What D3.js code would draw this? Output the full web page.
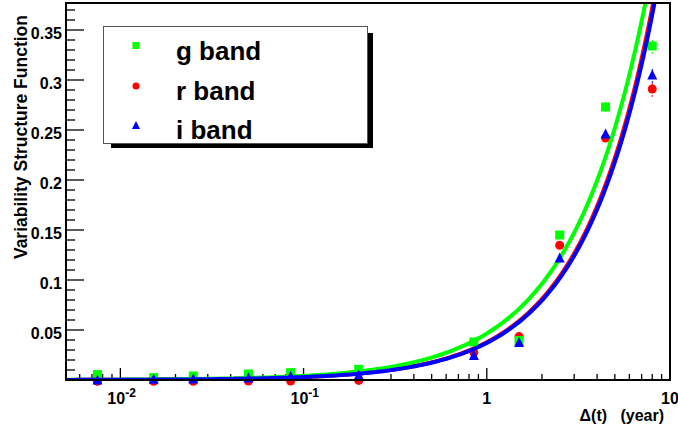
<!DOCTYPE html>
<html>
<head>
<meta charset="utf-8">
<script src="https://cdn.jsdelivr.net/npm/d3@7"></script>
<style>
  html, body { margin: 0; padding: 0; background: #fff; }
  svg { display: block; font-family: "Liberation Sans", Arial, Helvetica, sans-serif; }
</style>
</head>
<body>
<svg id="chart" width="678" height="431"></svg>
<script>
// ---- data ----
const timeLags = [0.0075, 0.0152, 0.025, 0.05, 0.085, 0.2, 0.85, 1.5, 2.5, 4.45, 8.0];
const gBand = [0.0054, 0.0024, 0.0040, 0.0060, 0.0074, 0.0107, 0.038, 0.0395, 0.145, 0.273, 0.334];
const rBand = [-0.0013, -0.0013, -0.0013, -0.0011, -0.0011, -0.0004, 0.0274, 0.0434, 0.1347, 0.242, 0.291];
const iBand = [0.0000, 0.0007, 0.0010, 0.0020, 0.0037, 0.0047, 0.0244, 0.0374, 0.122, 0.246, 0.305];
const gErr = [0, 0, 0, 0, 0, 0, 0, 0, 0, 0.005, 0.008];
const rErr = [0, 0, 0, 0, 0, 0, 0, 0, 0, 0.004, 0.008];
const iErr = [0, 0, 0, 0, 0, 0, 0, 0, 0, 0.004, 0.008];
// power-law fit V = A * dt^gamma, parameters
const bandNames = ["g band", "r band", "i band"];
const fitAmp = [0.0465, 0.0378, 0.0371];
const fitIndex = [1.05, 1.1, 1.1];
const yTickValues = [0.05, 0.1, 0.15, 0.2, 0.25, 0.3, 0.35];
const xTickValues = [0.01, 0.1, 1, 10];

// ---- layout ----
const svg = d3.select("#chart");
const L = 66, R = 670, T = 3, B = 380;
const x = d3.scaleLog().domain([0.00505, 10]).range([L, R]);
const y = d3.scaleLinear().domain([0, 0.377]).range([B, T]);

const colors = {g: "#00ff00", r: "#ff0000", i: "#0000ff"};

svg.append("defs").append("clipPath").attr("id", "plotclip")
  .append("rect").attr("x", L).attr("y", T).attr("width", R - L).attr("height", B - T);

// ---- axes ticks ----
const axisG = svg.append("g");
const yMinor = d3.range(1, 38).map(k => k * 0.01);
yMinor.forEach(v => {
  const isMajor = Math.abs(v / 0.05 - Math.round(v / 0.05)) < 1e-6;
  axisG.append("line")
    .attr("x1", L).attr("x2", L + (isMajor ? 18 : 9))
    .attr("y1", y(v)).attr("y2", y(v))
    .attr("stroke", "#000").attr("stroke-width", 1.3);
});
yTickValues.forEach(v => {
  axisG.append("text")
    .attr("x", 62).attr("y", y(v) + 8.5)
    .attr("text-anchor", "end")
    .attr("font-size", 16).attr("font-weight", "bold")
    .text(d3.format(".2~f")(v));
});
const xMinor = [];
for (let e = -3; e <= 0; e++) {
  for (let m = 1; m <= 9; m++) {
    const v = m * Math.pow(10, e);
    if (v >= 0.00505 && v <= 10) xMinor.push(v);
  }
}
xMinor.forEach(v => {
  const isMajor = Math.abs(Math.log10(v) - Math.round(Math.log10(v))) < 1e-9;
  axisG.append("line")
    .attr("x1", x(v)).attr("x2", x(v))
    .attr("y1", B).attr("y2", B - (isMajor ? 12 : 6))
    .attr("stroke", "#000").attr("stroke-width", 1.3);
});
xTickValues.forEach(v => {
  const e = Math.round(Math.log10(v));
  const t = axisG.append("text")
    .attr("y", 404)
    .attr("font-size", 16).attr("font-weight", "bold");
  if (e < 0) {
    t.attr("x", x(v) - 13).attr("text-anchor", "start");
    t.append("tspan").text("10");
    t.append("tspan").attr("dy", -7).attr("font-size", 12).text("-" + (-e));
  } else {
    t.attr("x", x(v)).attr("text-anchor", "middle").text(e === 0 ? "1" : "10");
  }
});

// axis titles
svg.append("text")
  .attr("transform", "translate(27,15) rotate(-90)")
  .attr("text-anchor", "end")
  .attr("font-size", 17.5).attr("font-weight", "bold")
  .text("Variability Structure Function");
svg.append("text")
  .attr("x", 664).attr("y", 421)
  .attr("text-anchor", "end")
  .attr("font-size", 16).attr("font-weight", "bold")
  .attr("xml:space", "preserve")
  .text("\u0394(t)   (year)");

// ---- series ----
const series = [
  {key: "r", vals: rBand, err: rErr, idx: 1},
  {key: "g", vals: gBand, err: gErr, idx: 0},
  {key: "i", vals: iBand, err: iErr, idx: 2}
];

const curveX = d3.range(0, 201).map(k => Math.pow(10, Math.log10(0.00505) + k * (Math.log10(10) - Math.log10(0.00505)) / 200));
const lineGen = d3.line().x(d => x(d[0])).y(d => y(d[1]));

function marker(g, key, cx, cy, size) {
  const c = colors[key];
  if (key === "g") {
    g.append("rect").attr("x", cx - size / 2).attr("y", cy - size / 2)
      .attr("width", size).attr("height", size).attr("fill", c);
  } else if (key === "r") {
    g.append("circle").attr("cx", cx).attr("cy", cy).attr("r", size / 2).attr("fill", c);
  } else {
    const h = size;
    g.append("path")
      .attr("d", `M${cx},${cy - h / 2 - 1}L${cx + h / 2 + 0.5},${cy + h / 2}L${cx - h / 2 - 0.5},${cy + h / 2}Z`)
      .attr("fill", c);
  }
}

series.forEach(s => {
  const gg = svg.append("g");
  timeLags.forEach((t, k) => {
    if (s.err[k] > 0) {
      gg.append("line")
        .attr("x1", x(t)).attr("x2", x(t))
        .attr("y1", y(s.vals[k] - s.err[k])).attr("y2", y(s.vals[k] + s.err[k]))
        .attr("stroke", colors[s.key]).attr("stroke-width", 1)
        .attr("stroke-dasharray", "2,2");
    }
  });
  timeLags.forEach((t, k) => marker(gg, s.key, x(t), y(s.vals[k]), 9));
  const A = fitAmp[s.idx], gam = fitIndex[s.idx];
  const pts = curveX.map(t => [t, A * Math.pow(t, gam)]).filter(p => p[1] < 0.5);
  svg.append("path")
    .attr("clip-path", "url(#plotclip)")
    .attr("d", lineGen(pts))
    .attr("fill", "none")
    .attr("stroke", colors[s.key])
    .attr("stroke-width", 4);
});

// frame
svg.append("rect").attr("x", L).attr("y", T).attr("width", R - L).attr("height", B - T)
  .attr("fill", "none").attr("stroke", "#000").attr("stroke-width", 2);

// ---- legend ----
const lg = svg.append("g");
lg.append("rect").attr("x", 111).attr("y", 33).attr("width", 262).attr("height", 115).attr("fill", "#000");
lg.append("rect").attr("x", 103.5).attr("y", 26.5).attr("width", 264).attr("height", 117)
  .attr("fill", "#fff").attr("stroke", "#555").attr("stroke-width", 1);
const legendRows = [
  {key: "g", my: 45.5, ty: 60},
  {key: "r", my: 86, ty: 100},
  {key: "i", my: 125.5, ty: 138.5}
];
legendRows.forEach((row, k) => {
  marker(lg, row.key, 136, row.my, 7);
  lg.append("text").attr("x", 176).attr("y", row.ty)
    .attr("font-size", 26).attr("font-weight", "bold")
    .text(bandNames[k]);
});
</script>
</body>
</html>
